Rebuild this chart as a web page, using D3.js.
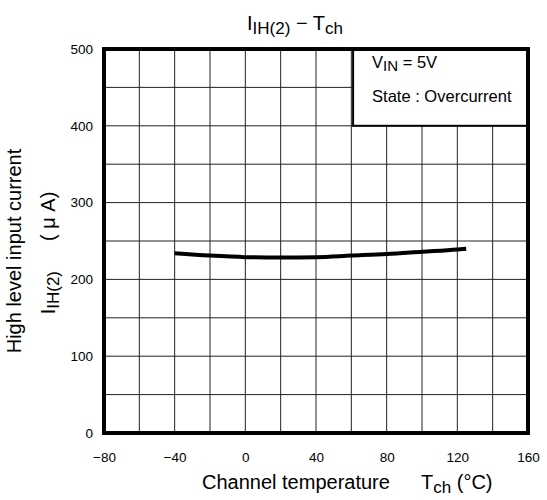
<!DOCTYPE html>
<html>
<head>
<meta charset="utf-8">
<script src="https://cdn.jsdelivr.net/npm/d3@7"></script>
<style>
  body { margin: 0; background: #fff; }
  text { font-family: "Liberation Sans", Arial, sans-serif; fill: #000; }
</style>
</head>
<body>
<svg id="chart" width="547" height="500"></svg>
<script>
// data
var temps = [-40, -20, 0, 20, 40, 60, 80, 100, 120, 125];
var current = [234, 231, 229, 228.5, 229, 231, 233, 236, 239, 240];
var xTicks = [-80, -40, 0, 40, 80, 120, 160];
var yTicks = [0, 100, 200, 300, 400, 500];
var xGrid = d3.range(-80, 161, 20);
var yGrid = d3.range(0, 501, 50);

var svg = d3.select("#chart");
var margin = {left: 104, right: 19, top: 49, bottom: 67};
var width = 547 - margin.left - margin.right;
var height = 500 - margin.top - margin.bottom;

var x = d3.scaleLinear().domain([-80, 160]).range([0, width]);
var y = d3.scaleLinear().domain([0, 500]).range([height, 0]);

var g = svg.append("g")
	.attr("transform", "translate(" + margin.left + "," + margin.top + ")");

// grid
g.append("g")
	.selectAll("line")
	.data(xGrid)
	.enter()
	.append("line")
	.attr("x1", function(d) { return x(d); })
	.attr("x2", function(d) { return x(d); })
	.attr("y1", 0)
	.attr("y2", height)
	.attr("stroke", "#222")
	.attr("stroke-width", 1);

g.append("g")
	.selectAll("line")
	.data(yGrid)
	.enter()
	.append("line")
	.attr("y1", function(d) { return y(d); })
	.attr("y2", function(d) { return y(d); })
	.attr("x1", 0)
	.attr("x2", width)
	.attr("stroke", "#222")
	.attr("stroke-width", 1);

// legend box (covers the grid)
var boxX = x(61);
var boxY = y(400);
g.append("rect")
	.attr("x", boxX)
	.attr("y", 0)
	.attr("width", width - boxX)
	.attr("height", boxY)
	.attr("fill", "#fff")
	.attr("stroke", "#000")
	.attr("stroke-width", 2);

var leg = g.append("text")
	.attr("x", boxX + 19)
	.attr("y", 19)
	.style("font-size", "16.5px");
leg.append("tspan").text("V");
leg.append("tspan").attr("dy", 3).style("font-size", "15px").text("IN");
leg.append("tspan").attr("dy", -3).text(" = 5V");

g.append("text")
	.attr("x", boxX + 19)
	.attr("y", 53)
	.style("font-size", "16.5px")
	.text("State : Overcurrent");

// frame
g.append("rect")
	.attr("width", width)
	.attr("height", height)
	.attr("fill", "none")
	.attr("stroke", "#000")
	.attr("stroke-width", 4);

// curve
var line = d3.line()
	.x(function(d, i) { return x(temps[i]); })
	.y(function(d) { return y(d); })
	.curve(d3.curveMonotoneX);

g.append("path")
	.datum(current)
	.attr("d", line)
	.attr("fill", "none")
	.attr("stroke", "#000")
	.attr("stroke-width", 4);

// axes (labels only)
var xAxis = g.append("g")
	.attr("transform", "translate(0," + height + ")")
	.call(d3.axisBottom(x).tickValues(xTicks).tickSize(0).tickPadding(19));
xAxis.select(".domain").remove();
xAxis.selectAll("text").style("font-size", "13.5px").style("font-family", "Liberation Sans, Arial, sans-serif");

var yAxis = g.append("g")
	.call(d3.axisLeft(y).tickValues(yTicks).tickSize(0).tickPadding(11));
yAxis.select(".domain").remove();
yAxis.selectAll("text").style("font-size", "13.5px").style("font-family", "Liberation Sans, Arial, sans-serif");

// title
var title = svg.append("text")
	.attr("x", 295)
	.attr("y", 30)
	.attr("text-anchor", "middle")
	.style("font-size", "20px");
title.append("tspan").text("I");
title.append("tspan").attr("dy", 4).style("font-size", "17px").text("IH(2)");
title.append("tspan").attr("dy", -4).text(" \u2212 T");
title.append("tspan").attr("dy", 4).style("font-size", "17px").text("ch");

// x title
var xt = svg.append("text")
	.attr("x", 202)
	.attr("y", 489)
	.style("font-size", "20px");
xt.append("tspan").text("Channel temperature");
xt.append("tspan").attr("x", 421).text("T");
xt.append("tspan").attr("dy", 4).style("font-size", "17px").text("ch");
xt.append("tspan").attr("dy", -4).text(" (\u00b0C)");

// y title
svg.append("text")
	.attr("transform", "translate(21,251) rotate(-90)")
	.attr("text-anchor", "middle")
	.style("font-size", "20px")
	.text("High level input current");

var yt = svg.append("text")
	.attr("transform", "translate(55,253) rotate(-90)")
	.attr("text-anchor", "middle")
	.style("font-size", "20px");
yt.append("tspan").text("I");
yt.append("tspan").attr("dy", 4).style("font-size", "17px").text("IH(2)");
yt.append("tspan").attr("dy", -4).attr("dx", 30).text("( \u03bc A)");
</script>
</body>
</html>
